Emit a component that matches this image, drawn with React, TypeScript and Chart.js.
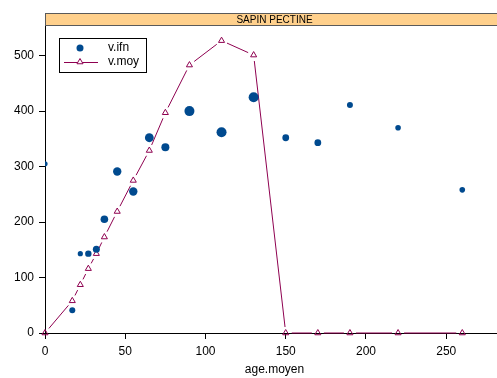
import React, { useEffect, useRef } from "react";
import { Chart, registerables } from "chart.js";

Chart.register(...registerables);

// ---- data ----
const ageMoyen = [0, 17, 22, 27, 32, 37, 45, 55, 65, 75, 90, 110, 130, 150, 170, 190, 220, 260];
const vIfn = [305, 41, 143, 143, 151, 205, 291, 255, 352, 335, 400, 362, 425, 352, 343, 411, 370, 258];
const vMoy = [0, 58, 87, 116, 143, 173, 219, 275, 329, 397, 483, 527, 501, 0, 0, 0, 0, 0];
const ifnRadius = [2.6, 3, 2.6, 3.2, 3.5, 3.8, 4.2, 4.2, 4.4, 4, 5, 5, 5, 3.4, 3.4, 3, 2.8, 2.8];
const xTicks = [0, 50, 100, 150, 200, 250];
const yTicks = [0, 100, 200, 300, 400, 500];
const xRange = [0, 286];
const yRange = [0, 553.4];
const stripLabel = "SAPIN PECTINE";
const xTitle = "age.moyen";
const legendLabels = ["v.ifn", "v.moy"];

// ---- styles ----
const IFN_COLOR = "#004A8F";
const MOY_COLOR = "#8E0050";
const FONT = "'Liberation Sans', Arial, sans-serif";

const gapLine = {
  id: "gapLine",
  beforeDatasetsDraw(chart: any) {
    const meta = chart.getDatasetMeta(1);
    const ctx = chart.ctx;
    const gap = 6;
    ctx.save();
    ctx.strokeStyle = MOY_COLOR;
    ctx.lineWidth = 1;
    for (let i = 0; i < meta.data.length - 1; i++) {
      const a = meta.data[i];
      const b = meta.data[i + 1];
      const dx = b.x - a.x;
      const dy = b.y - a.y;
      const len = Math.hypot(dx, dy);
      if (len <= 2 * gap) continue;
      const ux = dx / len;
      const uy = dy / len;
      ctx.beginPath();
      ctx.moveTo(a.x + ux * gap, a.y + uy * gap);
      ctx.lineTo(b.x - ux * gap, b.y - uy * gap);
      ctx.stroke();
    }
    ctx.restore();
  },
};

const decor = {
  id: "decor",
  afterDraw(chart: any) {
    const ctx = chart.ctx;
    const ca = chart.chartArea;
    ctx.save();
    // strip
    const sTop = 13;
    const sBot = ca.top;
    ctx.fillStyle = "#FFD08C";
    ctx.fillRect(ca.left, sTop, ca.right - ca.left, sBot - sTop);
    ctx.strokeStyle = "#5a5a5a";
    ctx.lineWidth = 1;
    ctx.beginPath();
    ctx.moveTo(ca.left, sTop + 0.5);
    ctx.lineTo(ca.right, sTop + 0.5);
    ctx.moveTo(ca.left, sBot - 0.5);
    ctx.lineTo(ca.right, sBot - 0.5);
    ctx.moveTo(ca.left + 0.5, sTop);
    ctx.lineTo(ca.left + 0.5, sBot);
    ctx.stroke();
    ctx.fillStyle = "#000";
    ctx.font = `10px ${FONT}`;
    ctx.textAlign = "center";
    ctx.textBaseline = "middle";
    ctx.fillText(stripLabel, (ca.left + ca.right) / 2, (sTop + sBot) / 2 + 0.5);

    // x title
    ctx.font = `12px ${FONT}`;
    ctx.textBaseline = "alphabetic";
    ctx.fillText(xTitle, (ca.left + ca.right) / 2, 373);

    // legend
    const lx = 59, ly = 38, lw = 87, lh = 34;
    ctx.fillStyle = "#fff";
    ctx.fillRect(lx, ly, lw, lh);
    ctx.strokeStyle = "#000";
    ctx.strokeRect(lx + 0.5, ly + 0.5, lw, lh);
    // entry 1
    ctx.fillStyle = IFN_COLOR;
    ctx.beginPath();
    ctx.arc(80, 48, 3.5, 0, Math.PI * 2);
    ctx.fill();
    // entry 2
    ctx.strokeStyle = MOY_COLOR;
    ctx.beginPath();
    ctx.moveTo(64, 62.5);
    ctx.lineTo(98, 62.5);
    ctx.stroke();
    const r = 3.5;
    ctx.fillStyle = "#fff";
    ctx.beginPath();
    ctx.moveTo(80, 62 - r);
    ctx.lineTo(80 + r * 0.866, 62 + r * 0.5);
    ctx.lineTo(80 - r * 0.866, 62 + r * 0.5);
    ctx.closePath();
    ctx.fill();
    ctx.stroke();
    ctx.fillStyle = "#000";
    ctx.font = `12px ${FONT}`;
    ctx.textAlign = "left";
    ctx.textBaseline = "middle";
    ctx.fillText(legendLabels[0], 108, 48);
    ctx.fillText(legendLabels[1], 108, 62);
    ctx.restore();
  },
};

export default function App() {
  const ref = useRef<HTMLCanvasElement | null>(null);
  useEffect(() => {
    if (!ref.current) return;
    const chart = new Chart(ref.current, {
      type: "scatter",
      data: {
        datasets: [
          {
            label: legendLabels[0],
            data: ageMoyen.map((x, i) => ({ x, y: vIfn[i] })),
            backgroundColor: IFN_COLOR,
            borderColor: IFN_COLOR,
            borderWidth: 0,
            pointRadius: ifnRadius,
            pointHoverRadius: ifnRadius,
            pointStyle: "circle",
          },
          {
            label: legendLabels[1],
            data: ageMoyen.map((x, i) => ({ x, y: vMoy[i] })),
            showLine: false,
            backgroundColor: "rgba(255,255,255,0)",
            borderColor: MOY_COLOR,
            borderWidth: 1,
            pointRadius: 3.5,
            pointStyle: "triangle",
            clip: false as any,
          },
        ],
      },
      options: {
        animation: false,
        responsive: false,
        devicePixelRatio: 1,
        layout: { padding: { top: 26, left: 0, right: 0, bottom: 0 } },
        plugins: { legend: { display: false }, tooltip: { enabled: false }, title: { display: false } },
        scales: {
          x: {
            type: "linear",
            min: xRange[0],
            max: xRange[1],
            afterBuildTicks: (s: any) => {
              s.ticks = xTicks.map((v) => ({ value: v }));
            },
            afterFit: (s: any) => {
              s.height = 45;
            },
            grid: { drawOnChartArea: false, drawTicks: true, tickLength: 6, color: "#000" },
            border: { display: true, color: "#000", width: 1 },
            ticks: { color: "#000", font: { family: FONT, size: 12 }, padding: 5, maxRotation: 0 },
          },
          y: {
            type: "linear",
            min: yRange[0],
            max: yRange[1],
            afterBuildTicks: (s: any) => {
              s.ticks = yTicks.map((v) => ({ value: v }));
            },
            afterFit: (s: any) => {
              s.width = 45;
            },
            grid: { drawOnChartArea: false, drawTicks: true, tickLength: 6, color: "#000" },
            border: { display: true, color: "#000", width: 1 },
            ticks: { color: "#000", font: { family: FONT, size: 12 }, padding: 5 },
          },
        },
      },
      plugins: [gapLine, decor],
    });
    return () => chart.destroy();
  }, []);
  return (
    <div
      style={{
        position: "fixed",
        left: 0,
        top: 0,
        width: 497,
        height: 378,
        overflow: "hidden",
        background: "#fff",
      }}
    >
      <canvas ref={ref} width={509} height={378} style={{ width: 509, height: 378, display: "block" }} />
    </div>
  );
}
